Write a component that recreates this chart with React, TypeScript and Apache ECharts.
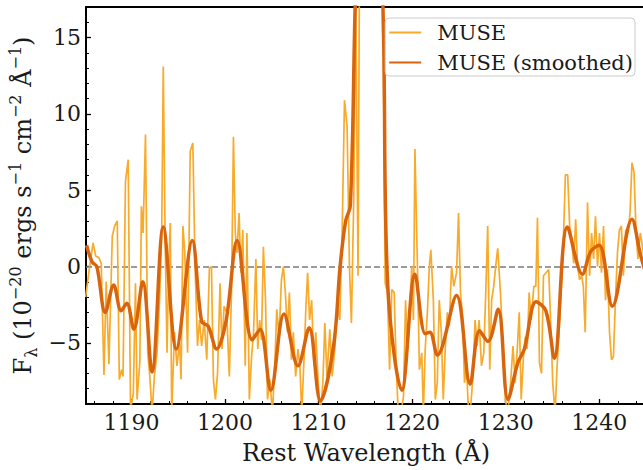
import React, { useEffect, useRef } from 'react';
import * as echarts from 'echarts';

// Raw MUSE spectrum (rest wavelength in Å, flux in 1e-20 erg/s/cm2/Å)
const rawWavelength = [
  1185.1, 1185.57, 1185.9, 1186.17, 1186.5, 1186.77, 1187.06, 1187.3, 1187.59, 1187.95,
  1188.2, 1188.48, 1188.7, 1188.94, 1189.1, 1189.36, 1189.65, 1189.9, 1190.2, 1190.43,
  1190.6, 1190.9, 1191.06, 1191.24, 1191.5, 1191.74, 1191.95, 1192.2, 1192.45, 1192.73,
  1193.0, 1193.23, 1193.4, 1193.6, 1193.8, 1193.97, 1194.15, 1194.3, 1194.6, 1194.86,
  1195.14, 1195.3, 1195.5, 1195.7, 1196.0, 1196.28, 1196.56, 1196.8, 1197.06, 1197.27,
  1197.5, 1197.77, 1198.05, 1198.33, 1198.55, 1198.76, 1198.97, 1199.2, 1199.47, 1199.68,
  1199.9, 1200.18, 1200.46, 1200.7, 1200.9, 1201.1, 1201.28, 1201.5, 1201.7, 1201.9,
  1202.16, 1202.34, 1202.6, 1202.84, 1203.05, 1203.3, 1203.5, 1203.7, 1203.9, 1204.1,
  1204.33, 1204.54, 1204.79, 1205.07, 1205.32, 1205.53, 1205.78, 1206.03, 1206.24, 1206.45,
  1206.67, 1206.88, 1207.1, 1207.3, 1207.55, 1207.8, 1208.0, 1208.2, 1208.44, 1208.65,
  1208.83, 1209.04, 1209.26, 1209.5, 1209.7, 1209.96, 1210.2, 1210.46, 1210.67, 1210.9,
  1211.2, 1211.45, 1211.74, 1211.99, 1212.27, 1212.52, 1212.77, 1213.05, 1213.3, 1213.51,
  1213.76, 1213.97, 1214.22, 1214.45, 1214.75, 1215.05, 1215.35, 1215.65, 1215.95, 1216.25,
  1216.55, 1216.85, 1217.12, 1217.37, 1217.59, 1217.83, 1218.08, 1218.3, 1218.5, 1218.8,
  1219.08, 1219.3, 1219.5, 1219.7, 1219.96, 1220.14, 1220.3, 1220.57, 1220.78, 1221.03,
  1221.2, 1221.4, 1221.63, 1221.84, 1222.0, 1222.27, 1222.48, 1222.69, 1222.9, 1223.12,
  1223.33, 1223.54, 1223.76, 1223.97, 1224.22, 1224.46, 1224.75, 1224.96, 1225.17, 1225.39,
  1225.6, 1225.81, 1226.03, 1226.24, 1226.52, 1226.73, 1226.95, 1227.16, 1227.41, 1227.66,
  1227.87, 1228.08, 1228.3, 1228.5, 1228.72, 1228.93, 1229.15, 1229.46, 1229.71, 1229.96,
  1230.24, 1230.53, 1230.78, 1231.02, 1231.24, 1231.45, 1231.66, 1231.88, 1232.09, 1232.3,
  1232.51, 1232.73, 1233.01, 1233.22, 1233.4, 1233.61, 1233.83, 1234.04, 1234.32, 1234.6,
  1234.85, 1235.03, 1235.28, 1235.5, 1235.7, 1235.92, 1236.13, 1236.38, 1236.63, 1236.84,
  1237.05, 1237.27, 1237.48, 1237.69, 1237.9, 1238.12, 1238.3, 1238.5, 1238.75, 1238.97,
  1239.18, 1239.4, 1239.6, 1239.82, 1240.03, 1240.24, 1240.46, 1240.67, 1240.88, 1241.1,
  1241.31, 1241.52, 1241.73, 1241.95, 1242.16, 1242.37, 1242.58, 1242.83, 1243.08, 1243.29,
  1243.5, 1243.72, 1243.93, 1244.14, 1244.39, 1244.7, 1245.0,
];
const rawFlux = [
  -2.0, 0.2, 1.55, 0.7, 0.6, 0.2, -7.1, -1.0, -6.4, 2.0,
  2.65, 3.0, -7.4, -6.75, -7.2, 5.6, 7.0, -9.4, -8.3, -1.1,
  -8.7, -6.2, 3.95, 2.2, 8.65, -5.65, -7.1, -9.6, -7.2, -5.65,
  -2.2, 2.1, 13.1, 1.8, -5.65, -0.4, 2.85, -9.6, -4.3, -6.5,
  -5.0, -7.4, 2.65, 0.9, -5.65, 7.55, 8.1, 0.0, -5.2, -3.5,
  -5.2, -3.5, -6.1, -0.1, 0.0, -7.4, -8.7, -7.0, -1.1, -5.4,
  -2.6, -3.0, -7.2, -1.5, 8.5, 2.2, 0.9, 3.5, -0.4, 2.4,
  -6.5, 2.2, -8.7, -5.9, -4.3, 0.5, -5.4, -3.5, -4.8, 1.3,
  -2.2, -8.7, -7.4, -9.6, -6.5, -2.8, -4.6, -0.85, 0.0, -1.7,
  -4.3, -1.7, -6.1, -4.3, -7.2, -5.4, -6.5, -9.6, -6.1, -2.6,
  -0.4, -3.5, -2.2, -6.5, -4.3, -7.6, -9.6, -7.6, -3.7, -7.2,
  -4.1, -7.2, -5.4, -2.6, -3.5, 2.2, 10.9, 9.2, 0.0, -3.7,
  4.4, 18.0, -0.6, 30, 45, 55, 60, 52, 42, 35,
  28, 20, -1.1, -1.7, -6.75, -1.5, -1.7, -6.5, -9.4, -9.6,
  -8.5, -2.2, -5.4, -3.7, 0.0, -3.5, 7.7, 0.0, -6.75, -5.65,
  -9.6, -5.4, -3.0, 0.0, 1.1, -2.2, -8.7, -7.6, -2.2, -4.3,
  -8.7, -5.4, -3.0, -3.9, 0.0, -1.3, -0.4, 3.5, -1.7, -3.25,
  -7.6, -6.5, -9.6, -9.4, -7.0, -3.5, -5.2, -3.5, -6.5, -5.65,
  -1.7, 2.65, -6.75, -2.2, -1.3, 0.0, 1.2, -1.9, -5.65, -8.7,
  -9.6, -7.6, -5.2, -7.6, -5.4, -3.0, -8.7, -6.1, -4.6, -5.4,
  -1.7, -3.5, -1.3, -1.3, 3.2, -6.3, -7.0, -0.6, -0.4, -0.2,
  -4.3, -7.6, -9.6, -6.5, -4.3, -1.7, 0.9, 6.0, 6.0, 2.65,
  1.8, 0.2, 3.1, 0.0, -0.85, -0.6, -1.3, -4.3, 4.2, -0.6,
  2.2, 0.5, 3.3, 0.0, 2.2, -0.4, 2.65, -2.2, -0.2, -4.3,
  -6.1, -5.9, -2.2, 0.9, 2.4, 2.65, -0.6, 2.4, 2.2, 3.5,
  6.8, 6.2, 2.4, 0.5, 2.2, 1.0, -0.5,
];

// Smoothed MUSE spectrum
const smoothWavelength = [
  1185.2, 1185.8, 1186.3, 1187.2, 1188.1, 1188.9, 1189.5, 1190.25, 1191.2, 1192.2,
  1193.4, 1194.8, 1196.5, 1197.5, 1198.2, 1199.1, 1200.1, 1201.3, 1202.9, 1203.75,
  1204.9, 1206.3, 1207.8, 1209.0, 1210.2, 1211.6, 1212.3, 1212.9, 1213.4, 1213.9,
  1214.6, 1215.4, 1216.3, 1216.95, 1217.4, 1218.9, 1220.3, 1221.4, 1221.9, 1222.7,
  1224.75, 1226.2, 1227.2, 1228.1, 1229.2, 1230.25, 1231.3, 1232.0, 1233.25, 1234.3,
  1235.2, 1236.6, 1238.2, 1239.1, 1240.0, 1241.4, 1243.5, 1244.4, 1245.0,
];
const smoothFlux = [
  1.4, 0.3, 0.0, -3.0, -1.2, -2.9, -2.4, -4.1, -1.0, -6.9,
  2.6, -5.4, 1.7, -3.6, -3.9, -5.4, -3.6, 1.7, -4.8, -4.1,
  -8.1, -3.1, -6.5, -4.0, -8.8, -5.2, 0.0, 3.0, 4.0, 16.8,
  32, 38, 30, 15, -1.3, -8.1, -0.5, -4.4, -4.3, -5.8,
  -1.9, -7.7, -4.2, -4.9, -2.8, -8.7, -6.3, -5.4, -2.3, -2.9,
  -6.0, 2.6, -0.5, 1.0, 1.4, -2.6, 3.1, 0.8, -0.5,
];

const xTickLabels = [1190, 1200, 1210, 1220, 1230, 1240];
const yTickLabels = [-5, 0, 5, 10, 15];

const X_MIN = 1185.14;
const X_MAX = 1245;
const Y_MIN = -9;
const Y_MAX = 17;

const FONT = 'DejaVu Serif';
const TEXT = '#1a1a1a';

export default function App() {
  const ref = useRef<HTMLDivElement>(null);

  useEffect(() => {
    document.body.style.margin = '0';
    if (!ref.current) return;
    const chart = echarts.init(ref.current, null, { renderer: 'svg' });

    const rawData = rawWavelength.map((x, i) => [x, rawFlux[i]]);
    const smoothData = smoothWavelength.map((x, i) => [x, smoothFlux[i]]);
    const fmtNum = (v: number) => (v < 0 ? '\u2212' + Math.abs(v) : String(v));

    chart.setOption({
      animation: false,
      backgroundColor: '#ffffff',
      grid: {
        left: 86,
        top: 7,
        right: -3,
        bottom: 66,
        show: true,
        borderColor: '#000',
        borderWidth: 2,
        backgroundColor: 'transparent',
        outerBoundsMode: 'none',
        containLabel: false,
      },
      legend: {
        orient: 'vertical',
        right: 8,
        top: 18,
        padding: [2, 2, 1, 3],
        itemGap: 5,
        itemWidth: 32,
        itemHeight: 12,
        borderColor: '#cccccc',
        borderWidth: 1,
        borderRadius: 4,
        backgroundColor: 'rgba(255,255,255,0.85)',
        itemStyle: { opacity: 0, borderWidth: 0 },
        textStyle: {
          fontFamily: FONT,
          fontSize: 21,
          color: TEXT,
          lineHeight: 25,
          padding: [0, 0, 0, 11],
        },
        data: ['MUSE', 'MUSE (smoothed)'],
      },
      xAxis: [
        {
          type: 'value',
          min: X_MIN,
          max: X_MAX,
          splitNumber: 6,
          position: 'bottom',
          name: 'Rest Wavelength (Å)',
          nameLocation: 'middle',
          nameGap: 35,
          nameMoveOverlap: false,
          nameTextStyle: { fontFamily: FONT, fontSize: 24, color: TEXT, lineHeight: 28 },
          axisLine: { show: true, onZero: false, lineStyle: { color: '#000', width: 2 } },
          axisTick: { show: true, inside: true, length: 5, lineStyle: { color: '#000', width: 1.3 } },
          axisLabel: {
            show: true,
            margin: 7,
            fontFamily: FONT,
            fontSize: 22,
            color: TEXT,
            showMinLabel: false,
            showMaxLabel: false,
            formatter: (v: number) => (xTickLabels.includes(Math.round(v * 1000) / 1000) ? String(v) : ''),
          },
          splitLine: { show: false },
        },
        {
          type: 'value',
          min: X_MIN,
          max: X_MAX,
          splitNumber: 30,
          position: 'bottom',
          axisLine: { show: false, onZero: false },
          axisTick: { show: true, inside: true, length: 3, lineStyle: { color: '#000', width: 1 } },
          axisLabel: { show: false },
          splitLine: { show: false },
        },
      ],
      yAxis: [
        {
          type: 'value',
          min: Y_MIN,
          max: Y_MAX,
          splitNumber: 5,
          position: 'left',
          name:
            '{n|F}{sub|λ}{n| (10}{sup|−20}{n| ergs s}{sup|−1}{n| cm}{sup|−2}{n| Å}{sup|−1}{n|)}',
          nameLocation: 'middle',
          nameGap: 47,
          nameMoveOverlap: false,
          nameTextStyle: {
            fontFamily: FONT,
            fontSize: 24,
            color: TEXT,
            rich: {
              n: { fontFamily: FONT, fontSize: 24, color: TEXT, lineHeight: 32 },
              sup: { fontFamily: FONT, fontSize: 16, color: TEXT, verticalAlign: 'top', lineHeight: 18 },
              sub: { fontFamily: FONT, fontSize: 16, color: TEXT, verticalAlign: 'bottom', lineHeight: 18 },
            },
          },
          axisLine: { show: true, onZero: false, lineStyle: { color: '#000', width: 2 } },
          axisTick: { show: true, inside: true, length: 5, lineStyle: { color: '#000', width: 1.3 } },
          axisLabel: {
            show: true,
            margin: 5,
            fontFamily: FONT,
            fontSize: 22,
            color: TEXT,
            showMinLabel: false,
            showMaxLabel: false,
            formatter: (v: number) => (yTickLabels.includes(Math.round(v * 1000) / 1000) ? fmtNum(v) : ''),
          },
          splitLine: { show: false },
        },
        {
          type: 'value',
          min: Y_MIN,
          max: Y_MAX,
          interval: 1,
          position: 'left',
          axisLine: { show: false, onZero: false },
          axisTick: { show: true, inside: true, length: 3, lineStyle: { color: '#000', width: 1 } },
          axisLabel: { show: false },
          splitLine: { show: false },
        },
      ],
      series: [
        {
          name: 'MUSE',
          type: 'line',
          data: rawData,
          xAxisIndex: 0,
          yAxisIndex: 0,
          symbol: 'none',
          showSymbol: false,
          clip: true,
          lineStyle: { color: '#f8aa2a', width: 1.7 },
          itemStyle: { color: '#f8aa2a' },
          z: 2,
          markLine: {
            silent: true,
            symbol: 'none',
            label: { show: false },
            lineStyle: { color: '#7a7a7a', type: [6, 3], width: 1.5 },
            data: [{ yAxis: 0 }],
            z: 1,
          },
        },
        {
          name: 'MUSE (smoothed)',
          type: 'line',
          data: smoothData,
          xAxisIndex: 0,
          yAxisIndex: 0,
          symbol: 'none',
          showSymbol: false,
          smooth: 0.35,
          clip: true,
          lineStyle: { color: '#d8650d', width: 3.5 },
          itemStyle: { color: '#d8650d' },
          z: 3,
        },
      ],
    });

    return () => {
      chart.dispose();
    };
  }, []);

  return <div ref={ref} style={{ width: 643, height: 470 }} />;
}
